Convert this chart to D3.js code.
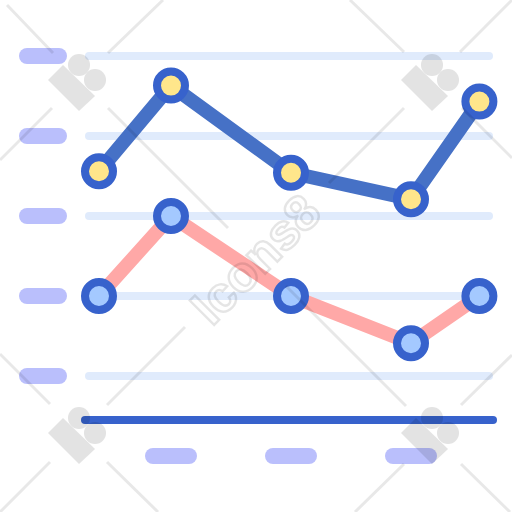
<!DOCTYPE html>
<html>
<head>
<meta charset="utf-8">
<script src="https://cdn.jsdelivr.net/npm/d3@7"></script>
<style>
  html, body { margin: 0; padding: 0; background: #fff; }
  svg { display: block; }
</style>
</head>
<body>
<svg id="chart"></svg>
<script>
// Values
const gridLevels = [0, 1, 2, 3, 4];
const xTicks = [1, 2, 3];
const xValues = [0.4, 1, 2, 3, 3.57];
const upperValues = [2.56, 3.63, 2.54, 2.21, 3.43];
const lowerValues = [1, 2, 1, 0.41, 1];

const size = 512;
const colours = { pill: "#babffc", grid: "#e0ebfc", axis: "#3762cc", upper: "#4671c6", lower: "#ffa8a7",
                  upperDot: "#ffe68b", lowerDot: "#a4c9ff" };

const svg = d3.select("#chart").attr("width", size).attr("height", size);

const x = d3.scaleLinear().domain([0, 3.6]).range([51, 483]);
const y = d3.scaleLinear().domain([0, 4]).range([376, 56]);

// Grid lines and the pills that stand in for the y labels
svg.append("g").selectAll("line")
    .data(gridLevels)
  .join("line")
    .attr("x1", 89).attr("x2", 489)
    .attr("y1", d => y(d)).attr("y2", d => y(d))
    .attr("stroke", colours.grid)
    .attr("stroke-width", 8)
    .attr("stroke-linecap", "round");

svg.append("g").selectAll("rect")
    .data(gridLevels)
  .join("rect")
    .attr("x", 19).attr("y", d => y(d) - 8)
    .attr("width", 48).attr("height", 16).attr("rx", 8)
    .attr("fill", colours.pill);

// Baseline and x label pills
svg.append("line")
    .attr("x1", 85).attr("x2", 493)
    .attr("y1", 420).attr("y2", 420)
    .attr("stroke", colours.axis)
    .attr("stroke-width", 8)
    .attr("stroke-linecap", "round");

svg.append("g").selectAll("rect")
    .data(xTicks)
  .join("rect")
    .attr("x", d => x(d) - 26).attr("y", 448)
    .attr("width", 52).attr("height", 16).attr("rx", 8)
    .attr("fill", colours.pill);

// Series
const line = d3.line().x(d => x(d.x)).y(d => y(d.y));
const series = [
  { values: upperValues, stroke: colours.upper, dot: colours.upperDot },
  { values: lowerValues, stroke: colours.lower, dot: colours.lowerDot }
];

series.forEach(s => {
  const points = s.values.map((v, i) => ({ x: xValues[i], y: v }));
  const g = svg.append("g");
  g.append("path")
      .attr("d", line(points))
      .attr("fill", "none")
      .attr("stroke", s.stroke)
      .attr("stroke-width", 14);
  g.selectAll("circle")
      .data(points)
    .join("circle")
      .attr("cx", d => x(d.x))
      .attr("cy", d => y(d.y))
      .attr("r", 14)
      .attr("fill", s.dot)
      .attr("stroke", colours.axis)
      .attr("stroke-width", 8);
});

// Watermark over the top
const wm = svg.append("g").attr("class", "watermark");
const strokes = [
  [7, 5, 53, 53], [163, 0, 108, 53], [52, 108, 0, 160], [108, 108, 228, 228],
  [350, 0, 404, 52], [512, 0, 460, 52], [462, 108, 512, 158], [404, 108, 329, 183],
  [0, 354, 50, 404], [185, 327, 107, 405], [50, 462, 0, 512], [107, 462, 158, 512],
  [286, 286, 406, 406], [512, 355, 461, 405], [404, 464, 355, 512], [461, 464, 510, 512]
];
wm.selectAll("line")
    .data(strokes)
  .join("line")
    .attr("x1", d => d[0]).attr("y1", d => d[1])
    .attr("x2", d => d[2]).attr("y2", d => d[3])
    .attr("stroke", "#000")
    .attr("stroke-opacity", 0.09)
    .attr("stroke-width", 3);

const logos = wm.selectAll("g.logo")
    .data([[0, 0], [353, 0], [0, 353], [353, 353]])
  .join("g")
    .attr("class", "logo")
    .attr("transform", d => `translate(${d[0]},${d[1]})`)
    .attr("opacity", 0.105);
logos.append("path").attr("d", "M48 80L63 65L95 96L79 111Z");
logos.append("circle").attr("cx", 79).attr("cy", 65).attr("r", 11);
logos.append("circle").attr("cx", 95).attr("cy", 80).attr("r", 11);

wm.append("text")
    .attr("transform", "translate(255,258.5) rotate(-45)")
    .attr("y", 18)
    .attr("text-anchor", "middle")
    .attr("font-family", "'Liberation Sans', sans-serif")
    .attr("font-weight", "bold")
    .attr("font-size", 50)
    .attr("fill", "none")
    .attr("stroke", "#000")
    .attr("stroke-opacity", 0.1)
    .attr("stroke-width", 2.5)
    .text("Icons8");
</script>
</body>
</html>
